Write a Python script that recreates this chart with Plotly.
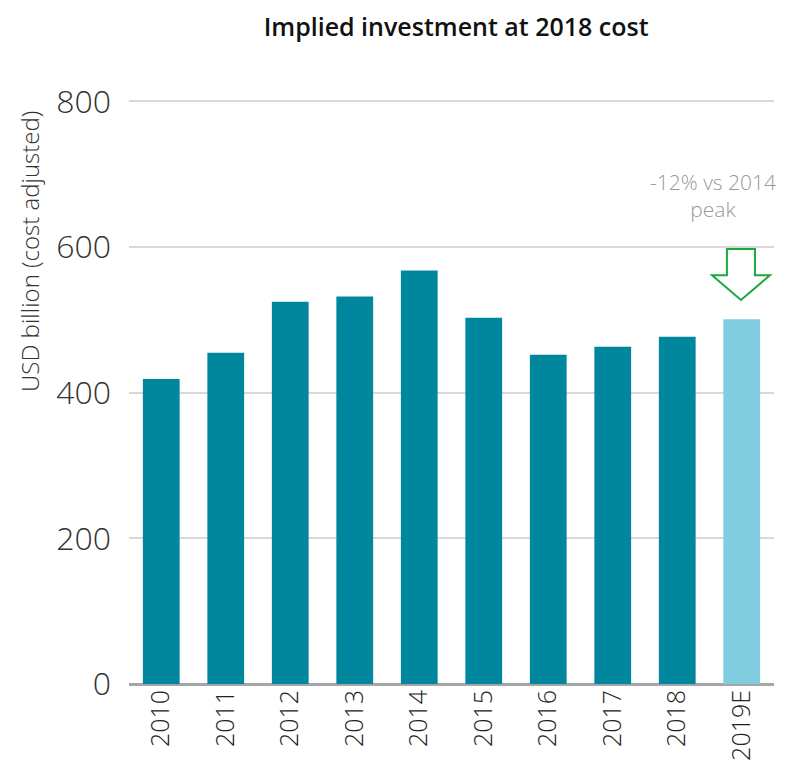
import plotly.graph_objects as go

# Data
years = ["2010", "2011", "2012", "2013", "2014", "2015", "2016", "2017", "2018", "2019E"]
investment = [419, 455, 525, 532, 568, 503, 452, 463, 477, 501]
bar_colors = ["#00879D"] * 9 + ["#80CDE0"]

fig = go.Figure(go.Bar(
    x=years,
    y=investment,
    marker=dict(color=bar_colors, line=dict(width=0)),
    width=0.57,
))

# Down arrow (outline) above the 2019E bar
arrow = ("M 0.927,0.745 L 0.9705,0.745 L 0.9705,0.700 L 0.9938,0.700 "
         "L 0.9488,0.6575 L 0.9039,0.700 L 0.927,0.700 Z")
fig.add_shape(type="path", path=arrow, xref="paper", yref="paper",
              line=dict(color="#1AAA3C", width=2), fillcolor="rgba(0,0,0,0)")

fig.add_annotation(
    text="-12% vs 2014<br>peak", xref="paper", yref="paper",
    x=0.905, y=0.837, xanchor="center", yanchor="middle",
    showarrow=False, align="center",
    font=dict(size=21, color="#999999", weight=300),
)

# y-axis title sits above the plot's middle, as in the source
fig.add_annotation(
    text="USD billion (cost adjusted)", xref="paper", yref="paper",
    x=-0.154, y=0.741, xanchor="center", yanchor="middle",
    textangle=-90, showarrow=False,
    font=dict(size=24, color="#333333", weight=300),
)

fig.update_layout(
    title=dict(text="Implied investment at 2018 cost", x=0.556, xanchor="center",
               y=0.975, yanchor="middle",
               font=dict(size=25, color="#111111", weight=600)),
    width=806, height=769,
    margin=dict(l=121, r=40, t=92, b=93),
    plot_bgcolor="white", paper_bgcolor="white",
    font=dict(family="Open Sans, sans-serif", color="#333333"),
    showlegend=False,
    xaxis=dict(
        tickangle=-90, tickfont=dict(size=25, color="#222222", weight=300),
        showline=False, showgrid=False, ticks="",
    ),
    yaxis=dict(
        range=[0, 802], tickvals=[0, 200, 400, 600, 800],
        tickfont=dict(size=32, color="#333333", weight=300),
        gridcolor="#D9D9D9", gridwidth=2,
        zeroline=True, zerolinecolor="#A6A6A6", zerolinewidth=3,
        ticks="", ticklabelstandoff=17,
    ),
)

fig.write_html("out.html")
